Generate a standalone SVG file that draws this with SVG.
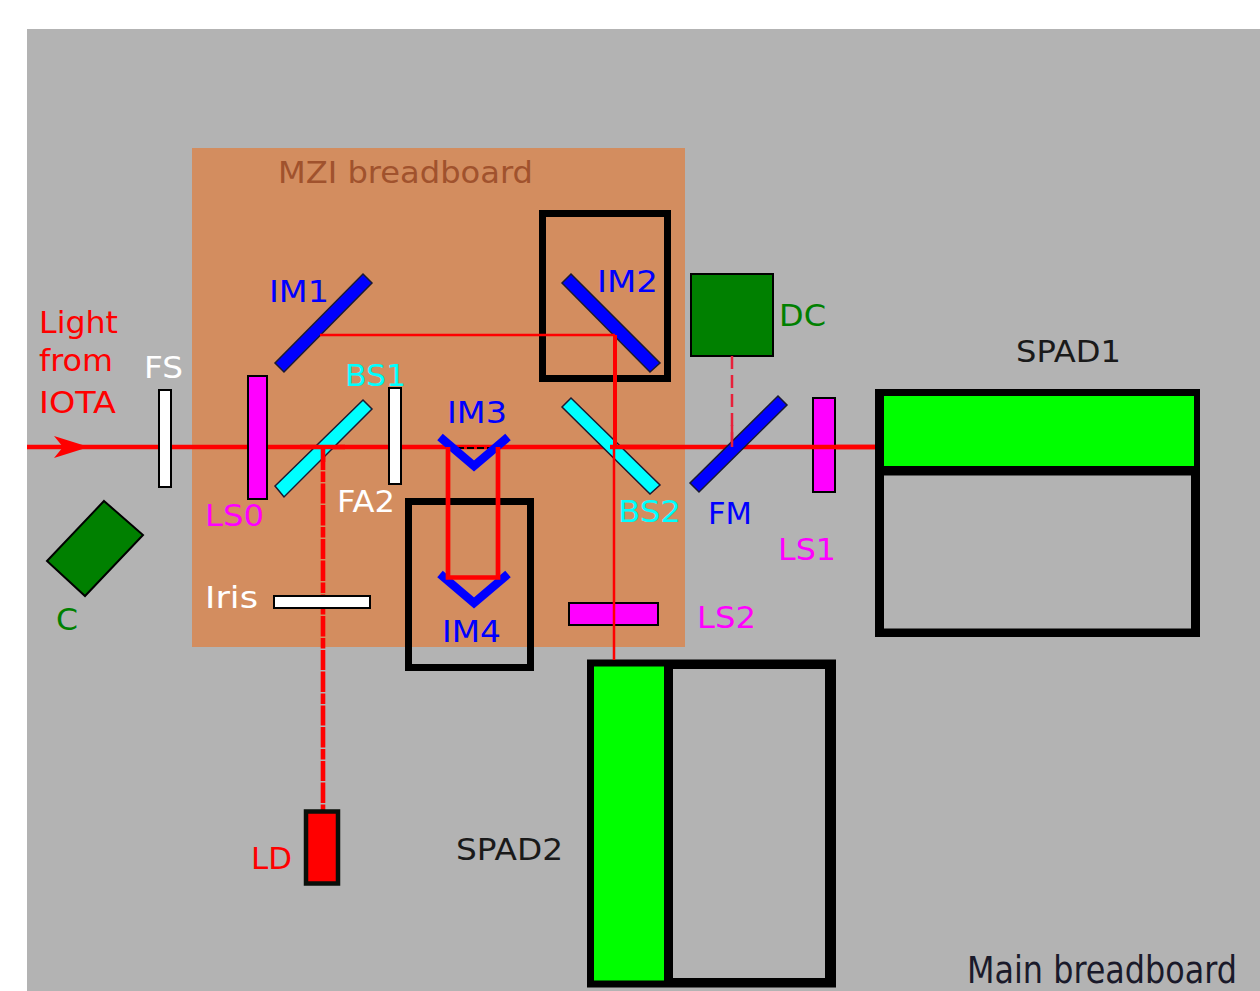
<svg xmlns="http://www.w3.org/2000/svg" width="1260" height="991" viewBox="0 0 1260 991">
<style>
text{font-family:"DejaVu Sans",sans-serif;font-size:30px}
.o{stroke:#000;stroke-width:2}
.s{stroke:#1a1a33;stroke-width:1.5}
.b{fill:#00f}.c{fill:#0ff}.m{fill:#f0f}.w{fill:#fff}.g{fill:#008000}
.box{fill:none;stroke:#000;stroke-width:7}
.r{stroke:#f00;fill:none}
</style>
<rect width="1260" height="991" fill="#fff"/>
<rect x="27" y="29" width="1233" height="962" fill="#b3b3b3"/>
<rect x="192" y="148" width="493" height="499" fill="#d38d5f"/>
<text x="278" y="183" fill="#a0522d" textLength="255" lengthAdjust="spacingAndGlyphs" id="t-mzi">MZI breadboard</text>
<text x="967" y="983" fill="#1a1a2a" style="font-family:'DejaVu Sans Condensed','DejaVu Sans',sans-serif;font-size:37px" id="t-main" textLength="270" lengthAdjust="spacingAndGlyphs">Main breadboard</text>

<g id="C"><polygon class="o g" points="104,501 143,535 85,596 47,561"/><text x="56" y="630" fill="#008000" textLength="22" lengthAdjust="spacingAndGlyphs">C</text></g>
<g id="DC"><rect class="o g" x="691" y="274" width="82" height="82"/><text x="779" y="326" fill="#008000" textLength="47" lengthAdjust="spacingAndGlyphs">DC</text></g>

<g id="connectors">
<line class="r" x1="27" y1="447" x2="875" y2="447" stroke-width="4.3"/>
<polygon points="54,436 89,447 54,458 63,447" fill="#f00"/>
<line class="r" x1="323" y1="447" x2="323" y2="811" stroke-width="4.6" stroke-dasharray="10.5 1.5 20 1.5 20.5 1.5" stroke-dashoffset="31"/>
<line x1="732" y1="356" x2="732" y2="447" stroke="#e8203a" stroke-width="2.5" stroke-dasharray="13 6"/>
<line x1="447" y1="448" x2="498" y2="448" stroke="#000" stroke-width="2" stroke-dasharray="7 3"/>
</g>

<g id="LD"><rect x="306" y="811.5" width="32" height="72" fill="#f00" stroke="#0a0f0a" stroke-width="4.5"/><text x="251" y="869" fill="#f00" textLength="41" lengthAdjust="spacingAndGlyphs">LD</text></g>
<g id="FS"><rect class="o w" x="159" y="390" width="12" height="97"/><text x="144" y="378" fill="#fff" textLength="39" lengthAdjust="spacingAndGlyphs">FS</text></g>
<g id="LS0"><rect class="o m" x="248" y="376" width="19" height="123"/><text x="205" y="526" fill="#f0f" textLength="59" lengthAdjust="spacingAndGlyphs">LS0</text></g>
<g id="IM1"><polygon class="b s" points="363,274 372,283 284,372 275,363"/><text x="269" y="302" fill="#00f" textLength="60" lengthAdjust="spacingAndGlyphs">IM1</text></g>
<g id="BS1"><polygon class="c s" points="363,400 372,409 284,497 275,486"/><text x="345" y="386" fill="#0ff" textLength="61" lengthAdjust="spacingAndGlyphs">BS1</text></g>
<g id="FA2"><rect class="o w" x="389" y="388" width="12" height="96"/><text x="337" y="512" fill="#fff" textLength="58" lengthAdjust="spacingAndGlyphs">FA2</text></g>
<g id="Iris"><rect class="o w" x="274" y="596" width="96" height="12"/><text x="205" y="608" fill="#fff" textLength="53" lengthAdjust="spacingAndGlyphs">Iris</text></g>
<g id="IM3"><path d="M440 437L474 466L508 437" fill="none" stroke="#00f" stroke-width="8.5"/><text x="447" y="423" fill="#00f" textLength="60" lengthAdjust="spacingAndGlyphs">IM3</text></g>
<g id="IM4"><path d="M440 574L474 603L508 574" fill="none" stroke="#00f" stroke-width="8.5"/><text x="442" y="642" fill="#00f" textLength="59" lengthAdjust="spacingAndGlyphs">IM4</text></g>
<path class="box" d="M408.5 501.5H530.5V667.5H408.5Z" stroke-width="7.5" id="IM4-stage"/>
<g id="IM2"><polygon class="b s" points="571,274 660,363 650,372 562,283"/><text x="597" y="292" fill="#00f" textLength="61" lengthAdjust="spacingAndGlyphs">IM2</text></g>
<rect class="box" x="542.5" y="213.5" width="125" height="165" id="IM2-stage"/>
<g id="BS2"><polygon class="c s" points="571,398 660,485 650,494 562,407"/><text x="618" y="522" fill="#0ff" textLength="63" lengthAdjust="spacingAndGlyphs">BS2</text></g>
<g id="FM"><polygon class="b s" points="778,396 787,405 699,492 690,483"/><text x="708" y="524" fill="#00f" textLength="44" lengthAdjust="spacingAndGlyphs">FM</text></g>
<g id="LS1"><rect class="o m" x="813" y="398" width="22" height="94"/><text x="778" y="560" fill="#f0f" textLength="58" lengthAdjust="spacingAndGlyphs">LS1</text></g>
<g id="LS2"><rect class="o m" x="569" y="603" width="89" height="22"/><text x="697" y="628" fill="#f0f" textLength="59" lengthAdjust="spacingAndGlyphs">LS2</text></g>
<g id="SPAD1"><rect x="875" y="389" width="325" height="248" fill="#000"/><rect x="884" y="396" width="310" height="70" fill="#0f0"/><rect x="884" y="475.5" width="307" height="153" fill="#b3b3b3"/><text x="1016" y="362" fill="#1a1a1a" textLength="105" lengthAdjust="spacingAndGlyphs">SPAD1</text></g>
<g id="SPAD2"><rect x="587" y="659.5" width="249" height="328" fill="#000"/><rect x="594" y="666.5" width="70" height="314" fill="#0f0"/><rect x="673" y="669" width="152" height="309" fill="#b3b3b3"/><text x="456" y="860" fill="#1a1a1a" textLength="107" lengthAdjust="spacingAndGlyphs">SPAD2</text></g>
<g id="beams-over">
<path class="r" d="M448 447V577.5H498V447" stroke-width="4.7"/>
<path class="r" d="M615 335V447" stroke-width="4"/>
<path class="r" d="M320 335H615" stroke-width="2.5"/>
<path class="r" d="M610 447H660" stroke-width="4.3"/>
<line class="r" x1="614" y1="447" x2="614" y2="660" stroke-width="2.5"/>
<path class="r" d="M323 447V462" stroke-width="4.6"/>
<path class="r" d="M300 447H345" stroke-width="4.3"/>
<line x1="732" y1="425" x2="732" y2="447" stroke="#e8203a" stroke-width="2.5"/>
<path class="r" d="M812 447H875" stroke-width="4.3"/>
</g>
<g id="source"><text x="39" y="333" fill="#f00" textLength="79" lengthAdjust="spacingAndGlyphs">Light</text><text x="39" y="371" fill="#f00" textLength="74" lengthAdjust="spacingAndGlyphs">from</text><text x="39" y="413" fill="#f00" textLength="77" lengthAdjust="spacingAndGlyphs">IOTA</text></g>
</svg>
